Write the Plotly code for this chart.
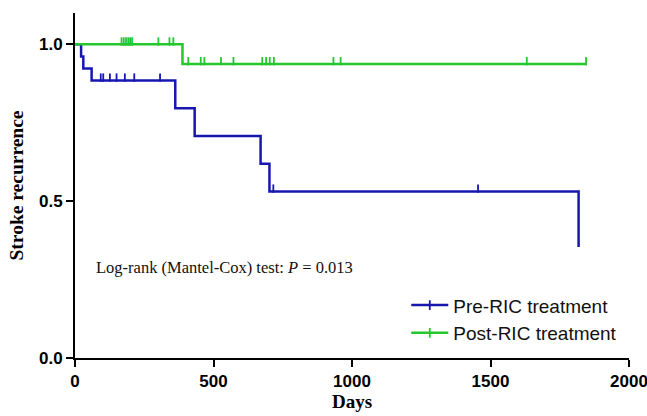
import plotly.graph_objects as go
import numpy as np

# ---- data ----
pre_step_days = [0, 22, 30, 60, 362, 432, 670, 702, 1818]
pre_step_surv = [1.0, 0.9615, 0.923, 0.885, 0.796, 0.708, 0.619, 0.531, 0.354]
pre_censor_days = [93, 102, 126, 150, 180, 214, 307, 716, 1455]

post_step_days = [0, 388, 1848]
post_step_surv = [1.0, 0.9375, 0.9375]
post_censor_days = [168, 176, 184, 192, 199, 206, 301, 341, 355, 409, 454, 467,
                    527, 572, 676, 690, 703, 718, 933, 959, 1631, 1845]

x_ticks = [0, 500, 1000, 1500, 2000]
y_ticks = [0.0, 0.5, 1.0]
y_ticklabels = ["0.0", "0.5", "1.0"]

BLUE = "#1717b0"
GREEN = "#25c72f"


def surv_at(days, step_days, step_surv):
    idx = np.searchsorted(step_days, days, side="right") - 1
    return [step_surv[i] for i in idx]


fig = go.Figure()

for name, sd, ss, cd, col in [
    ("Pre-RIC treatment", pre_step_days, pre_step_surv, pre_censor_days, BLUE),
    ("Post-RIC treatment", post_step_days, post_step_surv, post_censor_days, GREEN),
]:
    fig.add_trace(go.Scatter(
        x=sd, y=ss, mode="lines", line=dict(color=col, width=2.5, shape="hv"),
        showlegend=False, hoverinfo="skip"))
    cy = np.array(surv_at(cd, sd, ss)) + 0.009
    fig.add_trace(go.Scatter(
        x=cd, y=cy, mode="markers",
        marker=dict(symbol="line-ns", size=6, line=dict(color=col, width=1.8)),
        showlegend=False, hoverinfo="skip"))
    fig.add_trace(go.Scatter(
        x=[None], y=[None], mode="lines+markers", name=name,
        line=dict(color=col, width=2.5),
        marker=dict(symbol="line-ns", size=7, line=dict(color=col, width=1.8))))

fig.add_annotation(
    x=68, y=0.287, xref="x", yref="y", xanchor="left", yanchor="middle",
    text="Log-rank (Mantel-Cox) test: <i>P</i> = 0.013", showarrow=False,
    font=dict(family="Liberation Serif", size=16.5, color="#111"))

fig.update_layout(
    width=647, height=416,
    margin=dict(l=75, r=18, t=13, b=58),
    paper_bgcolor="white", plot_bgcolor="white",
    legend=dict(x=0.598, y=0.208, xanchor="left", yanchor="top",
                font=dict(family="Liberation Sans", size=19, color="#111"),
                bgcolor="rgba(0,0,0,0)", tracegroupgap=0, itemwidth=37),
    xaxis=dict(range=[0, 2000], tickvals=x_ticks, ticks="outside", ticklen=7,
               tickwidth=2, tickcolor="black", showline=True, linecolor="black",
               linewidth=2, showgrid=False, zeroline=False, automargin=False,
               ticklabeloverflow="allow",
               tickfont=dict(family="Liberation Sans", size=17, color="black", weight="bold"),
               title=dict(text="<b>Days</b>", standoff=0,
                          font=dict(family="Liberation Serif", size=19, color="black"))),
    yaxis=dict(range=[0, 1.1], tickvals=y_ticks, ticktext=y_ticklabels, ticks="outside",
               ticklen=7, tickwidth=2, tickcolor="black", showline=True,
               linecolor="black", linewidth=2, showgrid=False, zeroline=False,
               automargin=False,
               tickfont=dict(family="Liberation Sans", size=17, color="black", weight="bold"),
               title=dict(text="<b>Stroke recurrence</b>", standoff=10,
                          font=dict(family="Liberation Serif", size=19.5, color="black"))),
)

fig.write_html("out.html", config={"displayModeBar": False},
               post_script="document.body.style.margin='0px';document.body.style.overflow='hidden';")
